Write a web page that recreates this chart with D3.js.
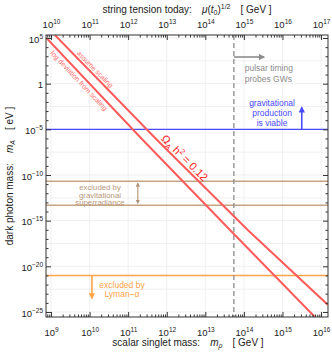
<!DOCTYPE html>
<html>
<head>
<meta charset="utf-8">
<script src="https://cdn.jsdelivr.net/npm/d3@7"></script>
<style>
  body { margin: 0; background: #fff; }
  svg { font-family: "Liberation Sans", Arial, sans-serif; }
</style>
</head>
<body>
<script>
// axis ranges (log10 units)
var xDomain = [8.87, 16.18],      // scalar singlet mass, GeV
    yDomain = [-25.55, 5.33];     // dark photon mass, eV

var xMajor = [9, 10, 11, 12, 13, 14, 15, 16];
var topMajor = [10, 11, 12, 13, 14, 15, 16, 17];   // string tension = 10 x m_rho
var yMajor = [5, 0, -5, -10, -15, -20, -25];

// relic abundance lines (log10 m_rho, log10 m_A)
var scalingLogM  = [9.10, 11.75, 14.10, 16.18],
    scalingLogMA = [5.33, -6.17, -16.02, -24.23];
var logdevLogM   = [8.88, 11.38, 13.64, 15.84],
    logdevLogMA  = [5.00, -6.17, -16.02, -25.55];

// constraints
var gravProdMA = -5;                 // gravitational production viable above
var superradMA = [-10.68, -13.3];    // superradiance band
var lymanMA = -21;                   // Lyman-alpha bound
var pulsarM = 13.74;                 // pulsar timing

var margin = {top: 35, right: 4, bottom: 36, left: 46},
    W = 332, H = 353,
    width = W - margin.left - margin.right,
    height = H - margin.top - margin.bottom;

var x = d3.scaleLinear().domain(xDomain).range([0, width]);
var xTop = d3.scaleLinear().domain([xDomain[0] + 1, xDomain[1] + 1]).range([0, width]);
var y = d3.scaleLinear().domain(yDomain).range([height, 0]);

var svg = d3.select("body").append("svg")
    .attr("width", W)
    .attr("height", H);

var defs = svg.append("defs");
defs.append("clipPath").attr("id", "clip")
  .append("rect").attr("width", width).attr("height", height);

var g = svg.append("g")
    .attr("transform", "translate(" + margin.left + "," + margin.top + ")");

// grid
var gridX = d3.range(9, 17);
var gridY = d3.range(-25, 5.1, 2.5);
g.append("g").selectAll("line").data(gridX).enter().append("line")
    .attr("x1", d => x(d)).attr("x2", d => x(d))
    .attr("y1", 0).attr("y2", height)
    .attr("stroke", "#ececec").attr("stroke-width", 0.8);
g.append("g").selectAll("line").data(gridY).enter().append("line")
    .attr("y1", d => y(d)).attr("y2", d => y(d))
    .attr("x1", 0).attr("x2", width)
    .attr("stroke", "#ececec").attr("stroke-width", 0.8);

var plot = g.append("g").attr("clip-path", "url(#clip)");

// horizontal constraint lines
function hline(v, col, w) {
  plot.append("line")
    .attr("x1", 0).attr("x2", width)
    .attr("y1", y(v)).attr("y2", y(v))
    .attr("stroke", col).attr("stroke-width", w);
}
hline(gravProdMA, "#4a4aff", 1.2);
superradMA.forEach(function(v) { hline(v, "#c4a484", 1.5); });
hline(lymanMA, "#ffa448", 1.5);

// pulsar timing dashed line
plot.append("line")
    .attr("x1", x(pulsarM)).attr("x2", x(pulsarM))
    .attr("y1", 0).attr("y2", height)
    .attr("stroke", "#8c8c8c").attr("stroke-width", 1.3)
    .attr("stroke-dasharray", "5,3");

// relic lines
var line = d3.line().x(d => x(d[0])).y(d => y(d[1]));
var scalingPts = d3.zip(scalingLogM, scalingLogMA),
    logdevPts = d3.zip(logdevLogM, logdevLogMA);
[scalingPts, logdevPts].forEach(function(p) {
  plot.append("path").datum(p)
    .attr("d", line)
    .attr("fill", "none")
    .attr("stroke", "#ff5b5b")
    .attr("stroke-width", 2);
});

// interpolate along a piecewise line at a given log m
function onLine(pts, m) {
  for (var i = 0; i < pts.length - 1; i++) {
    if (m <= pts[i + 1][0] || i == pts.length - 2) {
      var t = (m - pts[i][0]) / (pts[i + 1][0] - pts[i][0]);
      var px = x(m), py = y(pts[i][1] + t * (pts[i + 1][1] - pts[i][1]));
      var ang = Math.atan2(y(pts[i + 1][1]) - y(pts[i][1]), x(pts[i + 1][0]) - x(pts[i][0])) * 180 / Math.PI;
      return [px, py, ang];
    }
  }
}

function lineLabel(pts, m, dy, size, col, build) {
  var p = onLine(pts, m);
  var t = g.append("text")
    .attr("transform", "translate(" + p[0] + "," + p[1] + ") rotate(" + p[2] + ")")
    .attr("text-anchor", "middle")
    .attr("y", dy)
    .attr("font-size", size)
    .attr("fill", col);
  build(t);
}
lineLabel(scalingPts, 10.05, -2.5, 7, "#ff6a6a", t => t.text("assume scaling"));
lineLabel(logdevPts, 9.83, 8, 7, "#ff6a6a", t => t.text("log deviation from scaling"));
lineLabel(scalingPts, 12.34, -3, 11, "#ff2020", function(t) {
  t.append("tspan").text("Ω");
  t.append("tspan").attr("font-size", 7.5).attr("dy", 2.5).text("A");
  t.append("tspan").attr("dy", -2.5).text(" h");
  t.append("tspan").attr("font-size", 7.5).attr("dy", -4).text("2");
  t.append("tspan").attr("dy", 4).text(" = 0.12");
});

// arrows
defs.append("marker").attr("id", "head")
    .attr("viewBox", "0 0 10 10").attr("refX", 8).attr("refY", 5)
    .attr("markerWidth", 4).attr("markerHeight", 4)
    .attr("markerUnits", "strokeWidth")
    .attr("orient", "auto-start-reverse")
  .append("path").attr("d", "M0,0 L10,5 L0,10 z").attr("fill", "context-stroke");

function arrow(x1, y1, x2, y2, col, w, both) {
  var a = g.append("line")
    .attr("x1", x1).attr("y1", y1).attr("x2", x2).attr("y2", y2)
    .attr("stroke", col).attr("stroke-width", w)
    .attr("marker-end", "url(#head)");
  if (both) a.attr("marker-start", "url(#head)");
}
arrow(x(pulsarM), y(2.92), x(14.52), y(2.92), "#8c8c8c", 1.6, false);
arrow(x(15.5), y(gravProdMA), x(15.5), y(-2.6), "#4a4aff", 1.6, false);
arrow(x(11.25), y(superradMA[0]) + 2, x(11.25), y(superradMA[1]) - 2, "#b09478", 1.1, true);
arrow(x(10.06), y(lymanMA), x(10.06), y(-23.5), "#ffa448", 1.6, false);

// annotations
function block(lines, cx, y0, lh, size, col, anchor) {
  var t = g.append("text").attr("font-size", size).attr("fill", col)
    .attr("text-anchor", anchor);
  lines.forEach(function(s, i) {
    t.append("tspan").attr("x", cx).attr("y", y0 + i * lh).text(s);
  });
}
block(["pulsar timing", "probes GWs"], x(14.02), y(2.92) + 14, 11, 8.5, "#8c8c8c", "start");
block(["gravitational", "production", "is viable"], x(14.73), y(gravProdMA) - 23, 10, 8.5, "#4a4aff", "middle");
block(["excluded by", "gravitational", "superradiance"], x(10.27), y(superradMA[0]) + 8.5, 7.8, 7.8, "#b8987a", "middle");
block(["excluded by", "Lyman\u2212\u03b1"], x(10.84), y(lymanMA) + 13, 8.5, 8.5, "#ffa448", "middle");

// frame
g.append("rect").attr("width", width).attr("height", height)
  .attr("fill", "none").attr("stroke", "#333").attr("stroke-width", 1);

// ticks
var minorX = [];
d3.range(8, 17).forEach(function(e) {
  for (var k = 2; k < 10; k++) {
    var v = e + Math.log10(k);
    if (v > xDomain[0] && v < xDomain[1]) minorX.push(v);
  }
});
var minorTop = minorX.map(d => d + 1);
var minorY = d3.range(-25, 6).filter(d => d % 5 != 0);

function expLabel(sel, e) {
  sel.text(null);
  if (e == 0) { sel.text("1"); return; }
  sel.append("tspan").text("10");
  sel.append("tspan").attr("font-size", 6.5).attr("dy", -4)
    .text(String(e).replace("-", "\u2212"));
}

function styleAxis(a) {
  a.select(".domain").remove();
  a.selectAll("line").attr("stroke", "#333");
  a.selectAll("text").attr("fill", "#222").attr("font-size", 9.5)
    .attr("font-family", "Liberation Sans, Arial, sans-serif");
}

var bx = g.append("g").attr("transform", "translate(0," + height + ")")
    .call(d3.axisBottom(x).tickValues(xMajor).tickSize(-5).tickPadding(12));
bx.selectAll(".tick text").each(function(d) { expLabel(d3.select(this), d); });
styleAxis(bx);
var bxm = g.append("g").attr("transform", "translate(0," + height + ")")
    .call(d3.axisBottom(x).tickValues(minorX).tickSize(-2.5).tickFormat(""));
styleAxis(bxm);

var tx = g.append("g")
    .call(d3.axisTop(xTop).tickValues(topMajor).tickSize(-5).tickPadding(7));
tx.selectAll(".tick text").each(function(d) { expLabel(d3.select(this), d); });
styleAxis(tx);
var txm = g.append("g")
    .call(d3.axisTop(xTop).tickValues(minorTop).tickSize(-2.5).tickFormat(""));
styleAxis(txm);

var ly = g.append("g")
    .call(d3.axisLeft(y).tickValues(yMajor).tickSize(-5).tickPadding(3));
ly.selectAll(".tick text").each(function(d) { expLabel(d3.select(this), d); })
  .attr("dy", "0.45em");
styleAxis(ly);
var lym = g.append("g")
    .call(d3.axisLeft(y).tickValues(minorY).tickSize(-2.5).tickFormat(""));
styleAxis(lym);

var ry = g.append("g").attr("transform", "translate(" + width + ",0)")
    .call(d3.axisRight(y).tickValues(yMajor).tickSize(-5).tickFormat(""));
styleAxis(ry);
var rym = g.append("g").attr("transform", "translate(" + width + ",0)")
    .call(d3.axisRight(y).tickValues(minorY).tickSize(-2.5).tickFormat(""));
styleAxis(rym);

// axis titles
var topTitle = svg.append("text").attr("x", 187).attr("y", 13)
    .attr("text-anchor", "middle").attr("font-size", 10).attr("fill", "#222");
topTitle.append("tspan").text("string tension today:\u2003");
topTitle.append("tspan").attr("font-style", "italic").text("\u03bc");
topTitle.append("tspan").text("(");
topTitle.append("tspan").attr("font-style", "italic").text("t");
topTitle.append("tspan").attr("font-size", 7).attr("dy", 2).text("0");
topTitle.append("tspan").attr("dy", -2).text(")");
topTitle.append("tspan").attr("font-size", 7).attr("dy", -4).text("1/2");
topTitle.append("tspan").attr("dy", 4).text("\u2003[ GeV ]");

var botTitle = svg.append("text").attr("x", 188).attr("y", 346)
    .attr("text-anchor", "middle").attr("font-size", 10).attr("fill", "#222");
botTitle.append("tspan").text("scalar singlet mass:\u2003");
botTitle.append("tspan").attr("font-style", "italic").text("m");
botTitle.append("tspan").attr("font-style", "italic").attr("font-size", 7).attr("dy", 2).text("\u03c1");
botTitle.append("tspan").attr("dy", -2).text("\u2003[ GeV ]");

var leftTitle = svg.append("text")
    .attr("transform", "translate(13," + (margin.top + height / 2) + ") rotate(-90)")
    .attr("text-anchor", "middle").attr("font-size", 10).attr("fill", "#222");
leftTitle.append("tspan").text("dark photon mass:\u2003");
leftTitle.append("tspan").attr("font-style", "italic").text("m");
leftTitle.append("tspan").attr("font-style", "italic").attr("font-size", 7).attr("dy", 2).text("A");
leftTitle.append("tspan").attr("dy", -2).text("\u2003[ eV ]");
</script>
</body>
</html>
